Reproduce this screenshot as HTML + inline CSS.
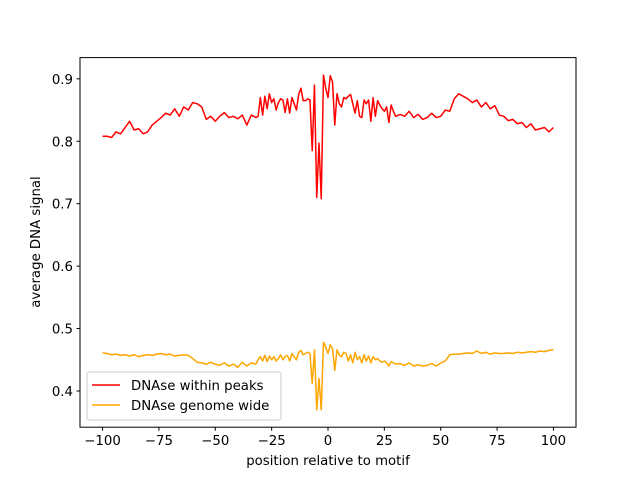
<!DOCTYPE html>
<html><head><meta charset="utf-8"><style>
body{margin:0;background:#fff}
svg text{font-family:"DejaVu Sans","Liberation Sans",sans-serif;font-size:13.3px;fill:#000}
</style></head><body>
<svg id="chart" width="640" height="480">
<rect x="0" y="0" width="640" height="480" fill="#fff"/>
<g id="plot"></g>
<rect x="80" y="57.6" width="496" height="369.6" fill="none" stroke="#000" stroke-width="1"/>
<g id="xt"></g>
<g id="yt"></g>
<text x="328" y="465" text-anchor="middle">position relative to motif</text>
<text transform="translate(40,242) rotate(-90)" text-anchor="middle">average DNA signal</text>
<g>
<rect x="87" y="372" width="194" height="48" rx="3" fill="#fff" fill-opacity="0.8" stroke="#ccc"/>
<g><line x1="92" y1="385" x2="120" y2="385" stroke="red" stroke-width="1.5"/><text x="131" y="390">DNAse within peaks</text></g>
<g><line x1="92" y1="405" x2="120" y2="405" stroke="orange" stroke-width="1.5"/><text x="131" y="410">DNAse genome wide</text></g>
</g>
</svg>
<script>
const positions=[-100,-98,-96,-94,-92,-90,-88,-86,-84,-82,-80,-78,-76,-74,-72,-70,-68,-66,-64,-62,-60,-58,-56,-54,-52,-50,-48,-46,-44,-42,-40,-38,-36,-34,-32,
-31,-30,-29,-28,-27,-26,-25,-24,-23,-22,-21,-20,-19,-18,-17,-16,-15,-14,-13,-12,-11,-10,-9,-8,-7,-6,-5,-4,-3,-2,-1,0,1,2,3,4,5,6,7,8,9,10,11,12,13,14,15,16,17,18,19,20,21,22,23,24,25,26,27,28,29,30,
32,34,36,38,40,42,44,46,48,50,52,54,56,58,60,62,64,66,68,70,72,74,76,78,80,82,84,86,88,90,92,94,96,98,100];
const peaks=[.808,.808,.806,.815,.812,.822,.832,.818,.82,.812,.815,.826,.832,.838,.845,.842,.852,.84,.855,.85,.862,.86,.855,.835,.84,.832,.84,.846,.838,.84,.836,.842,.826,.842,.838,
.84,.87,.842,.872,.852,.876,.862,.868,.85,.862,.868,.866,.846,.868,.845,.87,.86,.85,.875,.885,.865,.865,.868,.866,.785,.89,.71,.797,.708,.906,.885,.87,.905,.895,.826,.876,.86,.855,.87,.868,.872,.875,.86,.845,.865,.84,.838,.866,.86,.866,.832,.87,.84,.865,.858,.852,.848,.855,.83,.858,.848,.84,
.843,.84,.848,.838,.843,.835,.838,.845,.838,.84,.85,.848,.868,.876,.872,.868,.862,.866,.855,.862,.852,.857,.842,.84,.833,.835,.828,.83,.822,.828,.818,.82,.822,.815,.822];
const genome=[.461,.46,.458,.459,.457,.458,.456,.458,.455,.457,.458,.457,.459,.46,.458,.459,.456,.457,.458,.457,.452,.446,.445,.443,.446,.443,.441,.445,.44,.443,.438,.446,.44,.445,.443,
.45,.455,.448,.457,.447,.456,.45,.455,.448,.452,.458,.45,.455,.457,.448,.46,.455,.45,.462,.465,.458,.46,.462,.46,.412,.466,.37,.42,.37,.478,.47,.46,.474,.468,.433,.466,.458,.455,.462,.46,.448,.458,.445,.462,.45,.455,.445,.458,.448,.456,.445,.455,.45,.452,.448,.446,.448,.445,.44,.447,.445,.443,
.444,.441,.445,.44,.442,.44,.441,.444,.44,.445,.448,.458,.459,.459,.46,.461,.46,.464,.46,.462,.459,.461,.46,.46,.461,.46,.462,.461,.462,.463,.462,.464,.463,.465,.466];
const xTicks=[-100,-75,-50,-25,0,25,50,75,100];
const yTicks=[0.4,0.5,0.6,0.7,0.8,0.9];
const yTickLabels=["0.4","0.5","0.6","0.7","0.8","0.9"];
const X0=80,X1=576,Y0=427.2,Y1=57.6,XMIN=-110,XMAX=110,YMIN=0.342,YMAX=0.934;
const sx=v=>X0+(v-XMIN)/(XMAX-XMIN)*(X1-X0);
const sy=v=>Y0-(v-YMIN)/(YMAX-YMIN)*(Y0-Y1);
const NS="http://www.w3.org/2000/svg";
function mk(t,a){const e=document.createElementNS(NS,t);for(const k in a)e.setAttribute(k,a[k]);return e;}
const plot=document.getElementById('plot');
function series(vals,color,name){
  const d=vals.map((v,i)=>(i?'L':'M')+sx(positions[i]).toFixed(2)+','+sy(v).toFixed(2)).join('');
  const p=mk('path',{d:d,fill:'none',stroke:color,'stroke-width':1.5,'stroke-linejoin':'round'});
  
  
  plot.appendChild(p);
}
series(peaks,'red','series-within-peaks');
series(genome,'orange','series-genome-wide');
const xt=document.getElementById('xt');
xTicks.forEach(v=>{
  const x=sx(v);
  const l=mk('line',{x1:x,x2:x,y1:Y0,y2:Y0+3.5,stroke:'#000'});
  
  
  xt.appendChild(l);
  const t=mk('text',{x:x,y:Y0+18,'text-anchor':'middle'});
  t.textContent=v===0?'0':(v<0?'\u2212'+(-v):String(v));
  
  
  xt.appendChild(t);
});
const yt=document.getElementById('yt');
yTicks.forEach((v,i)=>{
  const y=sy(v);
  const l=mk('line',{x1:X0-3.5,x2:X0,y1:y,y2:y,stroke:'#000'});
  
  
  yt.appendChild(l);
  const t=mk('text',{x:X0-7,y:y+5,'text-anchor':'end'});
  t.textContent=yTickLabels[i];
  
  
  yt.appendChild(t);
});
</script>
</body></html>
